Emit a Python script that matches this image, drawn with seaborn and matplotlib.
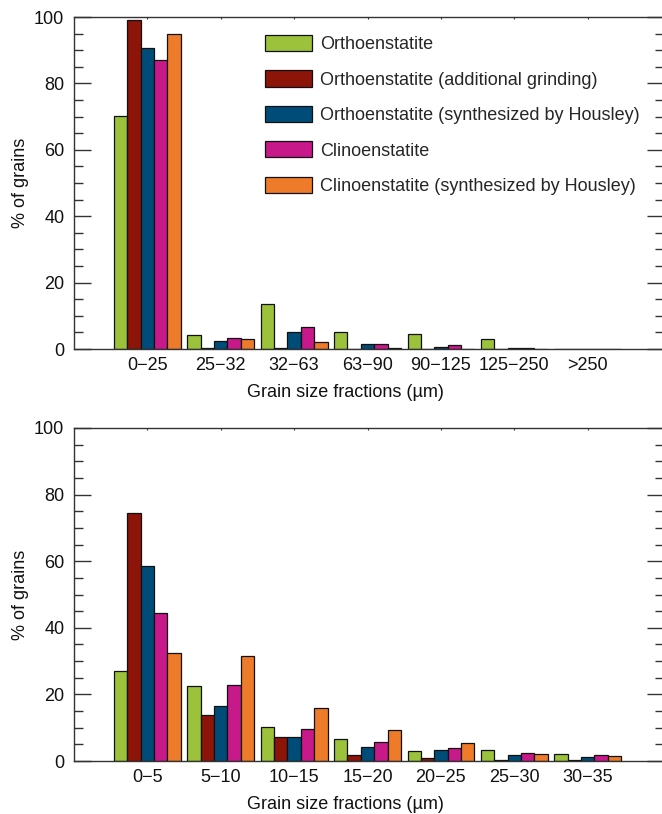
import numpy as np
import pandas as pd
import matplotlib
matplotlib.use("Agg")
import matplotlib.pyplot as plt
from matplotlib.ticker import MultipleLocator
import seaborn as sns

# Sample series (legend order)
samples = [
    "Orthoenstatite",
    "Orthoenstatite (additional grinding)",
    "Orthoenstatite (synthesized by Housley)",
    "Clinoenstatite",
    "Clinoenstatite (synthesized by Housley)",
]
colors = ["#9BC23A", "#8C1409", "#004C78", "#C8198A", "#EE7B2A"]

# Coarse sieve fractions (µm), % of grains
coarse_fractions = ["0−25", "25−32", "32−63", "63−90", "90−125", "125−250", ">250"]
coarse_ortho = [70.2, 4.3, 13.6, 5.1, 4.5, 2.9, 0.0]
coarse_ortho_grind = [99.0, 0.3, 0.3, 0.0, 0.0, 0.0, 0.0]
coarse_ortho_housley = [90.6, 2.5, 5.1, 1.5, 0.7, 0.2, 0.0]
coarse_clino = [87.0, 3.3, 6.6, 1.6, 1.2, 0.4, 0.0]
coarse_clino_housley = [95.0, 3.1, 2.1, 0.2, 0.0, 0.0, 0.0]

# Fine fractions (µm), % of grains
fine_fractions = ["0−5", "5−10", "10−15", "15−20", "20−25", "25−30", "30−35"]
fine_ortho = [27.0, 22.5, 10.3, 6.5, 3.0, 3.4, 2.2]
fine_ortho_grind = [74.4, 13.7, 7.2, 1.9, 1.0, 0.4, 0.2]
fine_ortho_housley = [58.6, 16.4, 7.2, 4.2, 3.3, 1.7, 1.3]
fine_clino = [44.4, 22.9, 9.5, 5.6, 3.9, 2.5, 1.7]
fine_clino_housley = [32.4, 31.5, 16.0, 9.4, 5.5, 2.2, 1.5]


def long_table(fractions, series):
    rows = []
    for name, vals in zip(samples, series):
        for frac, v in zip(fractions, vals):
            rows.append({"fraction": frac, "pct": v, "sample": name})
    return pd.DataFrame(rows)


coarse_df = long_table(coarse_fractions, [coarse_ortho, coarse_ortho_grind,
                                          coarse_ortho_housley, coarse_clino,
                                          coarse_clino_housley])
fine_df = long_table(fine_fractions, [fine_ortho, fine_ortho_grind,
                                      fine_ortho_housley, fine_clino,
                                      fine_clino_housley])

sns.set_theme(style="white")
plt.rcParams["font.family"] = ["Liberation Sans", "DejaVu Sans"]
plt.rcParams["axes.unicode_minus"] = True

FS = 13
W, H = 662, 814
fig = plt.figure(figsize=(W / 100, H / 100), dpi=100)


def px_axes(left, top, right, bottom):
    return fig.add_axes([left / W, 1 - bottom / H, (right - left) / W, (bottom - top) / H])


ax_top = px_axes(74, 17, 664, 349)
ax_bot = px_axes(74, 428, 664, 761)

for ax, df, fracs in [(ax_top, coarse_df, coarse_fractions), (ax_bot, fine_df, fine_fractions)]:
    sns.barplot(data=df, x="fraction", y="pct", hue="sample", order=fracs,
                hue_order=samples, palette=colors, width=0.91, errorbar=None,
                edgecolor="#111111", linewidth=0.9, saturation=1, ax=ax)
    ax.set_xlim(-1.0, len(fracs) - 1 + 1.04)
    ax.set_ylim(0, 100)
    ax.yaxis.set_major_locator(MultipleLocator(20))
    ax.yaxis.set_minor_locator(MultipleLocator(5))
    ax.tick_params(axis="y", which="major", direction="in", length=12.5, width=1.0,
                   left=True, right=True, color="#333333", labelsize=FS, pad=7)
    ax.tick_params(axis="y", which="minor", direction="in", length=6.5, width=1.0,
                   left=True, right=True, color="#333333")
    ax.tick_params(axis="x", direction="in", length=1.5, width=0.8, top=True,
                   bottom=False, color="#333333", labelsize=FS, pad=6)
    ax.set_xlabel("Grain size fractions (µm)", fontsize=FS, color="#111111")
    ax.set_ylabel("% of grains", fontsize=FS, color="#111111")
    ax.xaxis.set_label_coords((345 - 74) / 590, -35 / 333)
    ax.yaxis.set_label_coords(-45 / 590, 0.5)
    for side in ["left", "top", "bottom", "right"]:
        ax.spines[side].set_visible(True)
        ax.spines[side].set_color("#333333")
        ax.spines[side].set_linewidth(1.0)
    ax.grid(False)
    for lab in ax.get_xticklabels() + ax.get_yticklabels():
        lab.set_color("#111111")

ax_bot.get_legend().remove()
handles, labels = ax_top.get_legend_handles_labels()
ax_top.get_legend().remove()
ax_top.legend(handles, labels, loc="upper left",
              bbox_to_anchor=(265 / W, 1 - 35 / H), bbox_transform=fig.transFigure,
              frameon=False, fontsize=FS, handlelength=2.6, handleheight=1.0,
              labelspacing=0.95, handletextpad=0.45, borderpad=0, borderaxespad=0)

fig.savefig("out.png", dpi=100)
